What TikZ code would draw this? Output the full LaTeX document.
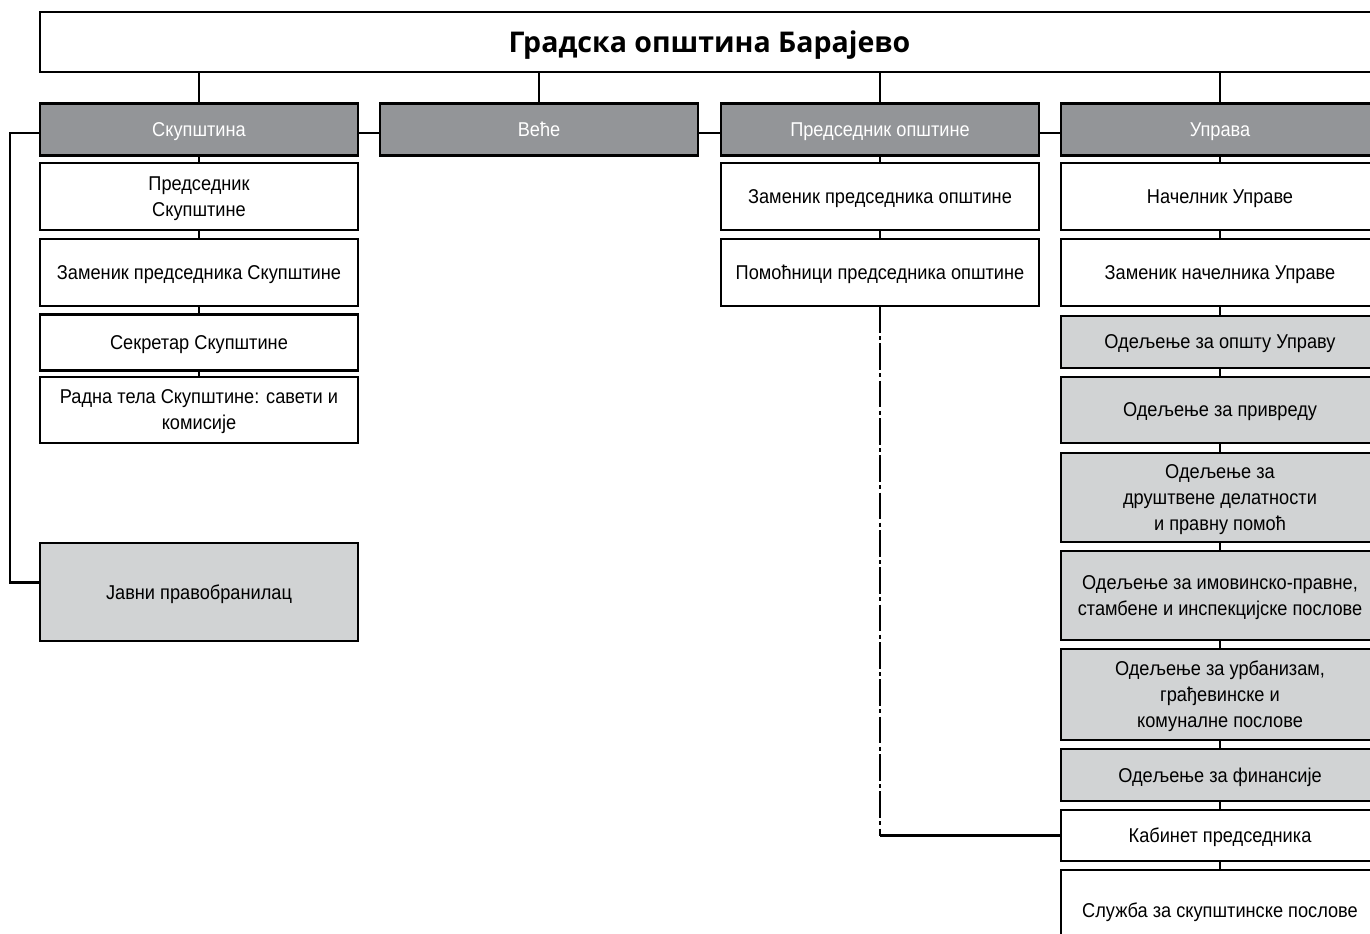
\documentclass[tikz,border=0pt]{standalone}
\usepackage{fontspec}
\setmainfont{Liberation Sans}[FakeStretch=0.91]
\newfontfamily\titlefont{Open Sans}
\definecolor{hdr}{HTML}{939598}
\definecolor{lgt}{HTML}{D1D3D4}
\tikzset{
  box/.style={draw=black, line width=2.2pt, inner sep=0pt, outer sep=0pt, align=center,
    minimum width=238.5pt, font=\fontsize{15}{19.5}\selectfont, fill=white, text depth=0pt},
  hbox/.style={box, fill=hdr, text=white, minimum height=38.5pt},
  gbox/.style={box, fill=lgt},
  conn/.style={line width=1.8pt, draw=black},
  dconn/.style={conn, dash pattern=on 20pt off 2.5pt on 3pt off 2.5pt},
}
\begin{document}
\begin{tikzpicture}[x=0.75pt, y=-0.75pt]
\useasboundingbox (0,0) rectangle (1370,933);
\clip (0,0) rectangle (1370,933);
\fill[white] (0,0) rectangle (1370,933);

% title
\node[box, minimum width=1004.25pt, minimum height=45pt, font=\titlefont\bfseries\fontsize{21.4}{24}\selectfont]
  (title) at (709.5,42) {Градска општина Барајево};

% header row
\node[hbox] (sk)   at (199,129.5)  {Скупштина};
\node[hbox] (vece) at (539,129.5)  {Веће};
\node[hbox] (pres) at (880,129.5)  {Председник општине};
\node[hbox] (upr)  at (1220,129.5) {Управа};

% column 1
\node[box, minimum height=50.25pt] (psk) at (199,196.5) {Председник\\Скупштине};
\node[box, minimum height=50.25pt] (zsk) at (199,272.5) {Заменик председника Скупштине};
\node[box, minimum height=42pt]    (ssk) at (199,342.5) {Секретар Скупштине};
\node[box, minimum height=49.5pt]  (rsk) at (199,410)   {Радна тела Скупштине: савети и\\комисије};
\node[gbox, minimum height=73.5pt] (jav) at (199,592)   {Јавни правобранилац};

% column 3
\node[box, minimum height=50.25pt] (zpo) at (880,196.5) {Заменик председника општине};
\node[box, minimum height=50.25pt] (ppo) at (880,272.5) {Помоћници председника општине};

% column 4
\node[box, minimum height=50.25pt]  (nac) at (1220,196.5) {Начелник Управе};
\node[box, minimum height=50.25pt]  (znu) at (1220,272.5) {Заменик начелника Управе};
\node[gbox, minimum height=39pt]    (ou)  at (1220,342)   {Одељење за општу Управу};
\node[gbox, minimum height=49.5pt]  (op)  at (1220,410)   {Одељење за привреду};
\node[gbox, minimum height=66.75pt] (od)  at (1220,497.5) {Одељење за\\друштвене делатности\\и правну помоћ};
\node[gbox, minimum height=66.75pt] (oi)  at (1220,595.5) {Одељење за имовинско-правне,\\стамбене и инспекцијске послове};
\node[gbox, minimum height=68.25pt] (ourb) at (1220,694.5) {Одељење за урбанизам,\\грађевинске и\\комуналне послове};
\node[gbox, minimum height=39pt]    (ofin) at (1220,775)  {Одељење за финансије};
\node[box, minimum height=38.25pt]  (kab) at (1220,835.5) {Кабинет председника};
\node[box, minimum height=60pt]     (slu) at (1220,910)   {Служба за скупштинске послове};

% title to headers
\foreach \n in {sk,vece,pres,upr} { \draw[conn] (title.south -| \n.north) -- (\n.north); }
\draw[conn] ([yshift=-2.6pt]sk.east) -- ([yshift=-2.6pt]vece.west);
\draw[conn] ([yshift=-2.6pt]vece.east) -- ([yshift=-2.6pt]pres.west);
\draw[conn] ([yshift=-2.6pt]pres.east) -- ([yshift=-2.6pt]upr.west);

% stacks
\draw[conn] (sk.south) -- (psk.north);
\draw[conn] (psk.south) -- (zsk.north);
\draw[conn] (zsk.south) -- (ssk.north);
\draw[conn] (ssk.south) -- (rsk.north);
\draw[conn] (pres.south) -- (zpo.north);
\draw[conn] (zpo.south) -- (ppo.north);
\draw[conn] (upr.south) -- (nac.north);
\draw[conn] (nac.south) -- (znu.north);
\draw[conn] (znu.south) -- (ou.north);
\draw[conn] (ou.south) -- (op.north);
\draw[conn] (op.south) -- (od.north);
\draw[conn] (od.south) -- (oi.north);
\draw[conn] (oi.south) -- (ourb.north);
\draw[conn] (ourb.south) -- (ofin.north);
\draw[conn] (ofin.south) -- (kab.north);
\draw[conn] (kab.south) -- (slu.north);

% left bracket
\coordinate (lx) at (10,0);
\draw[conn] ([yshift=-2.6pt]sk.west) -- ([yshift=-2.6pt]sk.west -| lx) |- ([yshift=7pt]jav.west);

% dashed link
\coordinate (dk) at (880,835.5);
\draw[dconn] (ppo.south) -- (dk);
\draw[conn] (dk) -- (kab.west);
\end{tikzpicture}
\end{document}
